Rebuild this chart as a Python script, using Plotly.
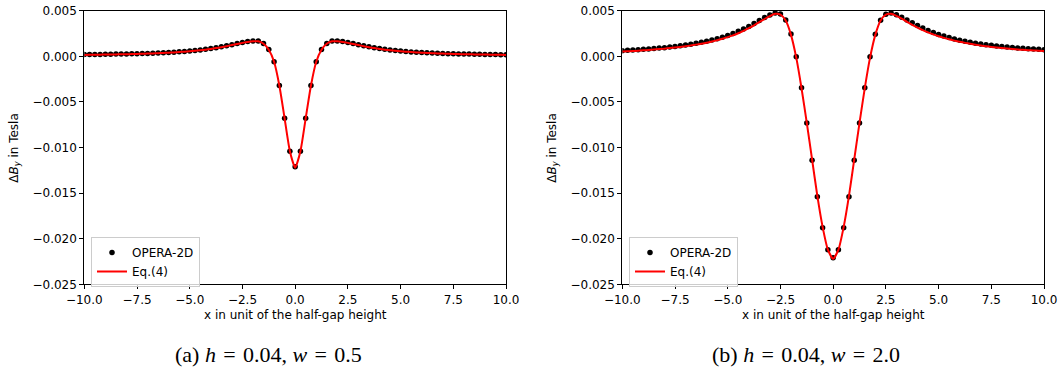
import plotly.graph_objects as go

# x positions (unit of half-gap height)
x_pos = [-10.0, -9.75, -9.5, -9.25, -9.0, -8.75, -8.5, -8.25, -8.0, -7.75, -7.5, -7.25, -7.0,
         -6.75, -6.5, -6.25, -6.0, -5.75, -5.5, -5.25, -5.0, -4.75, -4.5, -4.25, -4.0,
         -3.75, -3.5, -3.25, -3.0, -2.75, -2.5, -2.25, -2.0, -1.75, -1.5, -1.25, -1.0,
         -0.75, -0.5, -0.25, 0.0, 0.25, 0.5, 0.75, 1.0, 1.25, 1.5, 1.75, 2.0, 2.25, 2.5,
         2.75, 3.0, 3.25, 3.5, 3.75, 4.0, 4.25, 4.5, 4.75, 5.0, 5.25, 5.5, 5.75, 6.0,
         6.25, 6.5, 6.75, 7.0, 7.25, 7.5, 7.75, 8.0, 8.25, 8.5, 8.75, 9.0, 9.25, 9.5,
         9.75, 10.0]

# (a) h = 0.04, w = 0.5
opera_a = [0.00019, 0.0002, 0.0002, 0.00021, 0.00022, 0.00023, 0.00024, 0.00025, 0.00026,
           0.00027, 0.00028, 0.0003, 0.00032, 0.00034, 0.00036, 0.00039, 0.00042, 0.00045,
           0.00049, 0.00053, 0.00058, 0.00064, 0.0007, 0.00078, 0.00086, 0.00095, 0.00105,
           0.00116, 0.00128, 0.0014, 0.00151, 0.00161, 0.00167, 0.00168, 0.0014, 0.00075,
           -0.0006, -0.0032, -0.0068, -0.0104,
           -0.0121,
           -0.0104, -0.0068, -0.0032, -0.0006, 0.00074, 0.0014, 0.00168, 0.00167, 0.00161,
           0.00151, 0.0014, 0.00128, 0.00116, 0.00105, 0.00095, 0.00086, 0.00078, 0.0007,
           0.00063, 0.00057, 0.00052, 0.00048, 0.00044, 0.00041, 0.00038, 0.00035, 0.00033,
           0.00031, 0.00029, 0.00027, 0.00026, 0.00025, 0.00024, 0.00023, 0.00022, 0.00021,
           0.0002, 0.00019, 0.00018, 0.00018]
eq4_a = [0.00015, 0.00016, 0.00017, 0.00018, 0.00019, 0.0002, 0.00021, 0.00022, 0.00023,
         0.00024, 0.00026, 0.00028, 0.0003, 0.00032, 0.00034, 0.00037, 0.0004, 0.00043,
         0.00047, 0.00051, 0.00055, 0.0006, 0.00066, 0.00073, 0.00081, 0.0009, 0.001,
         0.00111, 0.00123, 0.00135, 0.00147, 0.00158, 0.00165, 0.00165, 0.00138, 0.00072,
         -0.0006, -0.0032, -0.0068, -0.0104,
         -0.0122,
         -0.0104, -0.0068, -0.0032, -0.0006, 0.00072, 0.00138, 0.00165, 0.00165, 0.00158,
         0.00147, 0.00135, 0.00123, 0.00111, 0.001, 0.0009, 0.00081, 0.00073, 0.00066,
         0.0006, 0.00055, 0.00051, 0.00047, 0.00043, 0.0004, 0.00037, 0.00034, 0.00032,
         0.0003, 0.00028, 0.00026, 0.00024, 0.00023, 0.00022, 0.00021, 0.0002, 0.00019,
         0.00018, 0.00017, 0.00016, 0.00015]

# (b) h = 0.04, w = 2.0
opera_b = [0.00062, 0.00065, 0.00068, 0.00072, 0.00076, 0.0008, 0.00085, 0.0009, 0.00095,
           0.00101, 0.00108, 0.00115, 0.00123, 0.00132, 0.00142, 0.00153, 0.00165, 0.00178,
           0.00193, 0.0021, 0.00229, 0.0025, 0.00274, 0.003, 0.00328, 0.00359, 0.00392,
           0.00425, 0.00453, 0.00474, 0.00464, 0.00398, 0.00245, -0.00005, -0.00345, -0.0073,
           -0.0114, -0.0154, -0.0188, -0.0212,
           -0.0221,
           -0.0212, -0.0188, -0.0154, -0.0114, -0.0073, -0.00345, -0.00005, 0.00243, 0.00396,
           0.00462, 0.00476, 0.00455, 0.00428, 0.00398, 0.00368, 0.00338, 0.0031, 0.00284,
           0.00261, 0.0024, 0.00222, 0.00205, 0.0019, 0.00177, 0.00165, 0.00154, 0.00144,
           0.00135, 0.00127, 0.0012, 0.00113, 0.00107, 0.00101, 0.00096, 0.00091, 0.00087,
           0.00083, 0.00079, 0.00076, 0.00073]
eq4_b = [0.00052, 0.00055, 0.00058, 0.00061, 0.00065, 0.00069, 0.00074, 0.00079, 0.00084,
         0.0009, 0.00096, 0.00103, 0.0011, 0.00119, 0.00128, 0.00138, 0.00149, 0.00162,
         0.00176, 0.00192, 0.0021, 0.0023, 0.00253, 0.00279, 0.00308, 0.0034, 0.00374,
         0.00409, 0.00441, 0.00466, 0.00458, 0.00392, 0.00235, -0.00015, -0.0035, -0.0073,
         -0.0113, -0.0153, -0.0187, -0.0212,
         -0.0222,
         -0.0212, -0.0187, -0.0153, -0.0113, -0.0073, -0.0035, -0.00015, 0.00235, 0.00392,
         0.00458, 0.00466, 0.00443, 0.00412, 0.00378, 0.00345, 0.00315, 0.00287, 0.00262,
         0.0024, 0.0022, 0.00202, 0.00186, 0.00172, 0.00159, 0.00147, 0.00137, 0.00127,
         0.00118, 0.0011, 0.00103, 0.00096, 0.0009, 0.00085, 0.0008, 0.00075, 0.00071,
         0.00067, 0.00064, 0.00061, 0.00058]

x_ticks = [-10.0, -7.5, -5.0, -2.5, 0.0, 2.5, 5.0, 7.5, 10.0]
x_ticklabels = ["−10.0", "−7.5", "−5.0", "−2.5", "0.0", "2.5", "5.0", "7.5", "10.0"]
y_ticks = [0.005, 0.0, -0.005, -0.010, -0.015, -0.020, -0.025]
y_ticklabels = ["0.005", "0.000", "−0.005", "−0.010", "−0.015", "−0.020", "−0.025"]
captions = ["(a) <i>h</i>\u2004=\u20040.04, <i>w</i>\u2004=\u20040.5",
            "(b) <i>h</i>\u2004=\u20040.04, <i>w</i>\u2004=\u20042.0"]
series_names = ["OPERA-2D", "Eq.(4)"]

W, H = 1062, 368
FONT = "DejaVu Sans"

fig = go.Figure()

panels = [
    dict(opera=opera_a, eq=eq4_a, xa="x", ya="y", legend="legend"),
    dict(opera=opera_b, eq=eq4_b, xa="x2", ya="y2", legend="legend2"),
]
for p in panels:
    fig.add_trace(go.Scatter(x=x_pos, y=p["opera"], mode="markers", name=series_names[0],
                             marker=dict(color="black", size=5.5),
                             xaxis=p["xa"], yaxis=p["ya"], legend=p["legend"]))
    fig.add_trace(go.Scatter(x=x_pos, y=p["eq"], mode="lines", name=series_names[1],
                             line=dict(color="red", width=2, shape="spline", smoothing=0.6),
                             xaxis=p["xa"], yaxis=p["ya"], legend=p["legend"]))

# plot area pixel boxes
boxes = [(84.3, 506.0), (622.3, 1044.0)]
top_px, bot_px = 10.7, 284.3
ydom = [1 - bot_px / H, 1 - top_px / H]

axis_common = dict(showline=True, linecolor="black", linewidth=1, mirror=True,
                   ticks="outside", ticklen=4, tickwidth=1, tickcolor="black",
                   showgrid=False, zeroline=False, automargin=False,
                   tickfont=dict(family=FONT, size=12, color="black"))

for i, (l, r) in enumerate(boxes):
    sfx = "" if i == 0 else "2"
    fig.layout["xaxis" + sfx] = dict(axis_common, domain=[l / W, r / W], range=[-10, 10],
                                     tickvals=x_ticks, ticktext=x_ticklabels,
                                     anchor="y" + sfx)
    fig.layout["yaxis" + sfx] = dict(axis_common, domain=ydom, range=[-0.025, 0.005],
                                     tickvals=y_ticks, ticktext=y_ticklabels,
                                     anchor="x" + sfx)

annotations = []
for i, (l, r) in enumerate(boxes):
    cx = (l + r) / 2
    # x-axis title
    annotations.append(dict(text="x in unit of the half-gap height", x=cx / W, y=1 - 315 / H,
                            xref="paper", yref="paper", showarrow=False,
                            xanchor="center", yanchor="middle",
                            font=dict(family=FONT, size=12, color="black")))
    # y-axis title
    annotations.append(dict(text="Δ<i>B</i><sub><i>y</i></sub> in Tesla", x=(l - 70) / W,
                            y=1 - (top_px + bot_px) / 2 / H,
                            xref="paper", yref="paper", showarrow=False, textangle=-90,
                            xanchor="center", yanchor="middle",
                            font=dict(family=FONT, size=12, color="black")))
    # caption
    annotations.append(dict(text=captions[i], x=(cx - 27) / W, y=1 - 354 / H,
                            xref="paper", yref="paper", showarrow=False,
                            xanchor="center", yanchor="middle",
                            font=dict(family="Liberation Serif", size=22, color="black")))

legend_common = dict(bgcolor="rgba(255,255,255,0.8)", bordercolor="#cccccc", borderwidth=1,
                     font=dict(family=FONT, size=12, color="black"),
                     xanchor="left", yanchor="top", yref="paper", xref="paper",
                     itemwidth=30, tracegroupgap=0)

fig.update_layout(
    width=W, height=H,
    margin=dict(l=0, r=0, t=0, b=0, autoexpand=False),
    paper_bgcolor="white", plot_bgcolor="white",
    annotations=annotations,
    showlegend=True,
    legend=dict(legend_common, x=91 / W, y=1 - 237 / H),
    legend2=dict(legend_common, x=629 / W, y=1 - 237 / H),
)

fig.write_html("out.html",
               config={"displayModeBar": False},
               post_script="document.body.style.margin='0px';"
                           "document.body.style.overflow='hidden';")
